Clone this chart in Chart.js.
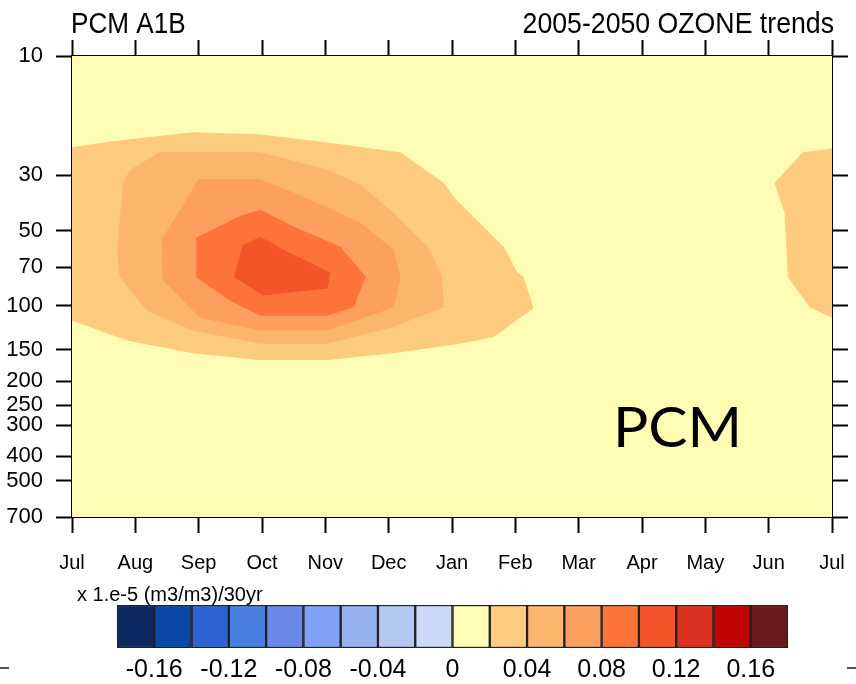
<!DOCTYPE html>
<html>
<head>
<meta charset="utf-8">
<title>PCM A1B ozone trends</title>
<script src="https://cdn.jsdelivr.net/npm/chart.js@4.4.1/dist/chart.umd.min.js"></script>
<style>
  html, body { margin: 0; padding: 0; background: #fff; }
  #wrap { position: relative; width: 856px; height: 684px; overflow: hidden; }
  canvas { position: absolute; left: 0; }
  #trend { top: 0; }
  #bar { top: 580px; }
  .dash { position: absolute; top: 667px; width: 9px; height: 2px; background: #555; }
</style>
</head>
<body>
<div id="wrap">
  <canvas id="trend" width="856" height="580"></canvas>
  <canvas id="bar" width="856" height="104"></canvas>
  <div class="dash" style="left:0"></div>
  <div class="dash" style="left:847px"></div>
</div>
<script>
const months = ["Jul", "Aug", "Sep", "Oct", "Nov", "Dec", "Jan", "Feb", "Mar", "Apr", "May", "Jun", "Jul"];
const pressureTicks = [10, 30, 50, 70, 100, 150, 200, 250, 300, 400, 500, 700];

// contour levels, x 1.e-5 (m3/m3)/30yr
const levels = [-0.18, -0.16, -0.14, -0.12, -0.10, -0.08, -0.06, -0.04, -0.02, 0,
  0.02, 0.04, 0.06, 0.08, 0.10, 0.12, 0.14, 0.16, 0.18];
const levelColors = ["#0c2a62", "#0a4aa6", "#2e63d6", "#4a80e2", "#6a88e8", "#80a2f4",
  "#96b1f2", "#b4c9f2", "#cbd9f9", "#fefdb3", "#fdcb80", "#fcb56d", "#fd9f5f",
  "#fd7338", "#f45429", "#d93220", "#c00303", "#6a1a1a"];
const levelTicks = [-0.16, -0.12, -0.08, -0.04, 0, 0.04, 0.08, 0.12, 0.16];

// filled contour outlines: [months after Jul, hPa]
const band02 = [[0, 23.3], [0.6, 22.1], [1.91, 20.3], [2.97, 20.7], [4.03, 22.3], [5.18, 24.4],
  [5.86, 32.2], [6.02, 36.6], [6.49, 48.3], [6.81, 58.1], [7.03, 73.8], [7.12, 76.6], [7.28, 102],
  [6.65, 133], [6.13, 141], [5.07, 154], [4.03, 164], [2.97, 164], [1.91, 154], [0.87, 137], [0, 114]];
const band02East = [[12, 23.6], [11.54, 24.4], [11.1, 32.2], [11.26, 42.5], [11.31, 76.6],
  [11.65, 101], [12, 111]];
const band04 = [[0.81, 32.2], [0.92, 28.6], [1.39, 24.4], [2.97, 24.4], [4.03, 28.6], [4.55, 32.8],
  [5.07, 42.5], [5.61, 58.1], [5.84, 76.6], [5.86, 101], [5.07, 121], [4.03, 141], [2.97, 141],
  [1.91, 125], [1.18, 104], [0.76, 76.6], [0.71, 58.1]];
const band06 = [[1.99, 31.3], [2.97, 31.3], [3.49, 35.3], [4.55, 46.6], [5.07, 59.7], [5.18, 76.6],
  [5.07, 101], [4.03, 125], [2.97, 125], [2.02, 111], [1.44, 78.8], [1.42, 54.5], [1.71, 41.3]];
const band08 = [[2.97, 41.3], [3.49, 48.3], [4.23, 58.1], [4.63, 76.6], [4.44, 101], [4.03, 109],
  [2.97, 109], [2.49, 94.7], [1.97, 76.6], [1.97, 53.5], [2.7, 43.3]];
const band10 = [[2.97, 53.0], [3.33, 59.7], [4.07, 73.8], [4.03, 84.8], [3.02, 90.4], [2.57, 76.6],
  [2.7, 57.0]];

Chart.defaults.font.family = "'Liberation Sans', Arial, sans-serif";
Chart.defaults.color = "#000";

// one closed polygon per band, coloured by its lower level
function band(points, lo) {
  const c = levels.indexOf(lo);
  return {
    data: points.map(([x, y]) => ({ x, y })),
    showLine: true,
    fill: "shape",
    backgroundColor: levelColors[c],
    borderColor: levelColors[c],
    borderWidth: 1,
    pointRadius: 0,
    tension: 0,
    order: 30 - c
  };
}

const tickGrid = {
  drawOnChartArea: false,
  tickLength: 16,
  tickWidth: 2,
  tickColor: "#000"
};
const axisBorder = { color: "#000", width: 2 };

// fixed axis boxes so the plot frame sits at 72..832 x 56..517
function fixBox(size) {
  return s => {
    if (s.isHorizontal()) s.height = size; else s.width = size;
    s.paddingLeft = s.paddingRight = s.paddingTop = s.paddingBottom = 0;
  };
}

// narrow title text like the plot's header font
function squeezed(ctx, text, x, y, align, sx) {
  ctx.save();
  ctx.translate(x, y);
  ctx.scale(sx, 1);
  ctx.textAlign = align;
  ctx.fillText(text, 0, 0);
  ctx.restore();
}

const frame = {
  id: "frame",
  beforeDatasetsDraw(chart) {
    const { ctx, chartArea: a } = chart;
    ctx.save();
    ctx.fillStyle = levelColors[levels.indexOf(0)];
    ctx.fillRect(a.left, a.top, a.right - a.left, a.bottom - a.top);
    ctx.restore();
  },
  afterDraw(chart) {
    const { ctx, chartArea: a } = chart;
    ctx.save();
    ctx.fillStyle = "#000";
    ctx.textBaseline = "alphabetic";
    ctx.font = "29px 'Liberation Sans', Arial, sans-serif";
    squeezed(ctx, "PCM A1B", a.left - 1, 33, "left", 0.9);
    squeezed(ctx, "2005-2050 OZONE trends", a.right + 2, 33, "right", 0.92);
    ctx.font = "56px Lato, 'Open Sans', sans-serif";
    squeezed(ctx, "PCM", 613, 447, "left", 1.05);
    ctx.restore();
  }
};

new Chart(document.getElementById("trend"), {
  type: "scatter",
  data: {
    datasets: [
      band(band02, 0.02),
      band(band02East, 0.02),
      band(band04, 0.04),
      band(band06, 0.06),
      band(band08, 0.08),
      band(band10, 0.10)
    ]
  },
  options: {
    responsive: false,
    animation: false,
    devicePixelRatio: 1,
    layout: { padding: 0 },
    plugins: { legend: { display: false }, tooltip: { enabled: false } },
    scales: {
      x: {
        type: "linear", position: "bottom", min: 0, max: 12, z: 1,
        afterBuildTicks: s => { s.ticks = months.map((m, i) => ({ value: i })); },
        afterFit: fixBox(63),
        ticks: {
          autoSkip: false, maxRotation: 0, padding: 18,
          font: { size: 20 },
          callback: v => months[v]
        },
        grid: tickGrid,
        border: axisBorder
      },
      xTop: {
        axis: "x", type: "linear", position: "top", min: 0, max: 12, z: 1,
        afterBuildTicks: s => { s.ticks = months.map((m, i) => ({ value: i })); },
        afterFit: fixBox(56),
        ticks: { display: false },
        grid: tickGrid,
        border: axisBorder
      },
      y: {
        type: "logarithmic", position: "left", reverse: true, min: 10, max: 700, z: 1,
        afterBuildTicks: s => { s.ticks = pressureTicks.map(v => ({ value: v })); },
        afterFit: fixBox(72),
        ticks: {
          autoSkip: false, padding: 13,
          font: { size: 22 },
          callback: v => String(v)
        },
        grid: tickGrid,
        border: axisBorder
      },
      yRight: {
        axis: "y", type: "logarithmic", position: "right", reverse: true, min: 10, max: 700, z: 1,
        afterBuildTicks: s => { s.ticks = pressureTicks.map(v => ({ value: v })); },
        afterFit: fixBox(24),
        ticks: { display: false },
        grid: tickGrid,
        border: axisBorder
      }
    }
  },
  plugins: [frame]
});

// label bar
const unitLabel = {
  id: "unitLabel",
  afterDraw(chart) {
    const { ctx } = chart;
    ctx.save();
    ctx.fillStyle = "#000";
    ctx.font = "20px 'Liberation Sans', Arial, sans-serif";
    ctx.textAlign = "left";
    ctx.textBaseline = "alphabetic";
    ctx.fillText("x 1.e-5 (m3/m3)/30yr", 77, 21);
    ctx.restore();
  }
};

new Chart(document.getElementById("bar"), {
  type: "bar",
  data: {
    labels: ["c"],
    datasets: [{
      data: levelColors.map((c, i) => ({ x: [levels[i], levels[i + 1]], y: "c" })),
      backgroundColor: levelColors,
      borderColor: "#222",
      borderWidth: 1.5,
      borderSkipped: false,
      barPercentage: 1,
      categoryPercentage: 1
    }]
  },
  options: {
    indexAxis: "y",
    responsive: false,
    animation: false,
    devicePixelRatio: 1,
    layout: { padding: { left: 117, right: 68, top: 25 } },
    plugins: { legend: { display: false }, tooltip: { enabled: false } },
    scales: {
      x: {
        type: "linear", min: -0.18, max: 0.18,
        afterBuildTicks: s => { s.ticks = levelTicks.map(v => ({ value: v })); },
        afterFit: s => { s.height = 36; s.paddingLeft = s.paddingRight = 0; },
        ticks: {
          autoSkip: false, maxRotation: 0, padding: 7,
          font: { size: 25 },
          callback: v => (v === 0 ? "0" : v.toFixed(2))
        },
        grid: { display: false, drawTicks: false },
        border: { display: false }
      },
      y: { display: false }
    }
  },
  plugins: [unitLabel]
});
</script>
</body>
</html>
